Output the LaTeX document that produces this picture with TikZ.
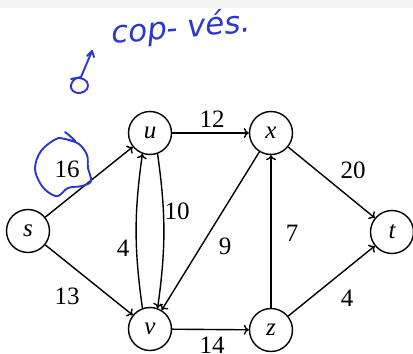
\documentclass[tikz,border=0pt]{standalone}
\usepackage{fontspec}
\setmainfont{Liberation Serif}
\newfontfamily\handfont{DejaVu Sans}
\usetikzlibrary{arrows.meta}
\definecolor{ink}{RGB}{45,55,205}
\definecolor{topbar}{RGB}{243,243,243}
\tikzset{
  vert/.style={circle,draw,line width=1.4pt,minimum size=43pt,inner sep=0pt,font=\fontsize{25}{28}\selectfont\itshape},
  wlabel/.style={inner sep=0pt,font=\fontsize{25}{28}\selectfont},
  arc/.style={line width=1.4pt,-{To[length=5pt,width=10pt,line width=1.4pt]}},
  penline/.style={ink,line width=1.9pt,line cap=round,line join=round}
}
\begin{document}
\begin{tikzpicture}[x=1pt,y=-1pt]
\useasboundingbox (0,0) rectangle (413,354);
\fill[white] (0,0) rectangle (413,354);
\fill[topbar] (0,0) rectangle (413,8);
% vertices
\node[vert] (s) at (28,231) {s};
\node[vert] (u) at (150,133) {u};
\node[vert] (x) at (271,133) {x};
\node[vert] (v) at (150,329) {v};
\node[vert] (z) at (271,330) {z};
\node[vert] (t) at (392,232) {t};
% edges
\draw[arc] (s) -- (u);
\draw[arc] (s) -- (v);
\draw[arc] (u) -- (x);
\draw[arc] (v) -- (z);
\draw[arc] (x) -- (t);
\draw[arc] (z) -- (t);
\draw[arc] (z) -- (x);
\draw[arc] (x) -- (v);
\draw[arc] (v.110) to[bend left=8] (u.250);
\draw[arc] (u.290) to[bend left=8] (v.70);
% weights
\node[wlabel] (w12) at (212,119) {12};
\node[wlabel] (w16) at (67,169) {16};
\node[wlabel] (w10) at (177,211) {10};
\node[wlabel] (w4a) at (123,248) {4};
\node[wlabel] (w13) at (67,296) {13};
\node[wlabel] (w9) at (225,246) {9};
\node[wlabel] (w7) at (292,233) {7};
\node[wlabel] (w20) at (353,170) {20};
\node[wlabel] (w4b) at (347,298) {4};
\node[wlabel] (w14) at (212,345) {14};
% handwriting
\node[ink,inner sep=0pt,anchor=base west,rotate=5,font=\handfont\fontsize{31}{34}\selectfont\itshape] (note) at (112,44) {cop- vés.};
\draw[penline] plot[smooth,tension=0.6] coordinates {(65,132) (75,141) (65,139) (56,139) (41,151) (35,168) (40,183) (48,192) (58,196) (68,188) (82,186) (91,181) (88,168) (87,155) (79,144) (68,140)};
\draw[penline] (92,51) -- (81,77);
\draw[penline] plot[smooth,tension=0.7] coordinates {(81,77) (75,79) (71,85) (73,91) (80,93) (87,89) (87,82) (80,78) (71,79)};
\draw[penline] (87,56) -- (92,51) -- (94,57);
\end{tikzpicture}
\end{document}
